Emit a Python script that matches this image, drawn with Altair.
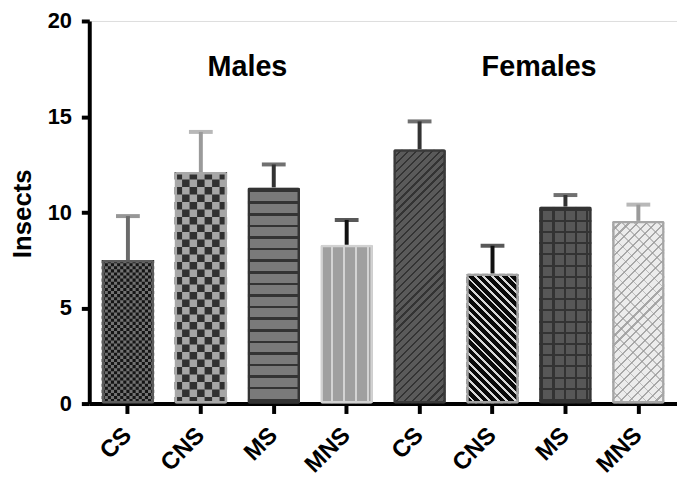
import math
import altair as alt
import pandas as pd

# ---------------- data ----------------
keys = ["M_CS", "M_CNS", "M_MS", "M_MNS", "F_CS", "F_CNS", "F_MS", "F_MNS"]
labels = ["CS", "CNS", "MS", "MNS", "CS", "CNS", "MS", "MNS"]
means = [7.5, 12.1, 11.3, 8.3, 13.3, 6.8, 10.3, 9.55]
uppers = [9.8, 14.2, 12.5, 9.6, 14.75, 8.25, 10.9, 10.4]
group_titles = ["Males", "Females"]
group_title_keys = ["M_CNS", "F_CNS"]
group_title_y = [17.1, 17.1]
y_ticks = [0, 5, 10, 15, 20]

# ---------------- style ----------------
stroke_cols = ["#5c5c5c", "#a8a8a8", "#333333", "#d2d2d2",
               "#3a3a3a", "#a3a3a3", "#333333", "#a6a6a6"]
err_cols = ["#6b6b6b", "#9a9a9a", "#333333", "#111111",
            "#333333", "#111111", "#333333", "#9a9a9a"]

FONT = "Liberation Sans"
W_PLOT, H_PLOT = 593, 386
P_IN, P_OUT = 0.28, 0.17
STEP = W_PLOT / (len(keys) - P_IN + 2 * P_OUT)
BW = STEP * (1 - P_IN)
PX = H_PLOT / 20.0

df = pd.DataFrame({"key": keys, "label": labels, "mean": means,
                   "upper": uppers, "scol": stroke_cols, "ecol": err_cols})
tdf = pd.DataFrame({"key": group_title_keys, "t": group_titles, "y": group_title_y})


def stops(length, period, line_w, bg, fg, phase=0.0):
    segs, cursor = [], 0.0
    k = -2
    while True:
        a = phase + k * period
        b = a + line_w
        k += 1
        if a > length:
            break
        a, b = max(a, 0.0), min(b, length)
        if b <= a or b <= cursor:
            continue
        a = max(a, cursor)
        if a > cursor:
            segs.append((cursor, a, bg))
        segs.append((a, b, fg))
        cursor = b
    if cursor < length:
        segs.append((cursor, length, bg))
    out = []
    for a, b, c in segs:
        out.append({"offset": round(a / length, 5), "color": c})
        out.append({"offset": round(b / length, 5), "color": c})
    return out


def vstripes(w, h, period, lw, bg, fg, phase=0.0):
    return {"gradient": "linear", "x1": 0, "y1": 0, "x2": 1, "y2": 0,
            "stops": stops(w, period, lw, bg, fg, phase)}


def hstripes(w, h, period, lw, bg, fg, phase=0.0):
    return {"gradient": "linear", "x1": 0, "y1": 0, "x2": 0, "y2": 1,
            "stops": stops(h, period, lw, bg, fg, phase)}


def diag_up(w, h, period, lw, bg, fg, phase=0.0):  # "/" lines
    s = (w + h) / (w * w + h * h)
    return {"gradient": "linear", "x1": 0, "y1": 0, "x2": w * s, "y2": h * s,
            "stops": stops(w + h, period, lw, bg, fg, phase)}


def diag_down(w, h, period, lw, bg, fg, phase=0.0):  # "\" lines
    s = (w + h) / (w * w + h * h)
    return {"gradient": "linear", "x1": 0, "y1": 1, "x2": w * s, "y2": 1 - h * s,
            "stops": stops(w + h, period, lw, bg, fg, phase)}


# checker bars: (index, number of columns, dark colour, light colour)
checkers = {0: (17, "#151515", "#727272"), 1: (7, "#303030", "#a6a6a6")}


def fills_for(i):
    w, h = BW, means[i] * PX
    if i in checkers:
        return [checkers[i][2]]
    if i == 2:
        return [hstripes(w, h, 11.7, 2.5, "#7a7a7a", "#333333", 2.5)]
    if i == 3:
        return [vstripes(w, h, 12.0, 2.6, "#a0a0a0", "#d4d4d4", 10.5)]
    if i == 4:
        return [diag_up(w, h, 8.0, 2.2, "#5a5a5a", "#333333")]
    if i == 5:
        return [diag_down(w, h, 8.5, 2.8, "#0a0a0a", "#d8d8d8")]
    if i == 6:
        return [vstripes(w, h, 11.3, 2.2, "#575757", "#333333", 2.0),
                hstripes(w, h, 11.3, 2.2, "rgba(0,0,0,0)", "#333333", 2.0)]
    return [diag_up(w, h, 9.0, 2.2, "#ececec", "#a8a8a8"),
            diag_down(w, h, 12.0, 1.6, "rgba(0,0,0,0)", "rgba(150,150,150,0.55)")]


x_axis = alt.Axis(title=None, labelExpr="split(datum.value, '_')[1]",
                  labelAngle=-45, labelAlign="right", labelBaseline="middle",
                  labelFont=FONT, labelFontSize=24, labelFontWeight="bold",
                  labelColor="black", labelPadding=18, tickSize=10, tickWidth=4,
                  tickColor="black", domainWidth=4, domainColor="black",
                  grid=False)
y_axis = alt.Axis(title="Insects", values=y_ticks, labelFont=FONT,
                  labelFontSize=22, labelFontWeight="bold", labelColor="black",
                  labelPadding=10, tickSize=8, tickWidth=4, tickColor="black",
                  domainWidth=4, domainColor="black", grid=False,
                  titleFont=FONT, titleFontSize=26, titleFontWeight="bold",
                  titleColor="black", titleX=-67, titleY=194, titleAngle=-90,
                  titleAlign="center", titleBaseline="middle")

X = alt.X("key:N", sort=keys,
          scale=alt.Scale(domain=keys, paddingInner=P_IN, paddingOuter=P_OUT),
          axis=x_axis)


def Y(field):
    return alt.Y(field, type="quantitative", title="Insects",
                 scale=alt.Scale(domain=[0, 20], nice=False, zero=True), axis=y_axis)


base = alt.Chart(df)

layers = []
layers.append(base.mark_rule(strokeWidth=4).encode(
    x=X, y=Y("mean"), y2="upper", color=alt.Color("ecol:N", scale=None)))
layers.append(base.mark_tick(thickness=4, size=24).encode(
    x=X, y=Y("upper"), color=alt.Color("ecol:N", scale=None)))

for i, k in enumerate(keys):
    sub = base.transform_filter(alt.datum.key == k)
    for f in fills_for(i):
        layers.append(sub.mark_bar(cornerRadius=2).encode(
            x=X, y=Y("mean"), fill=alt.value(f)))
    if i in checkers:
        ncol, dark, _light = checkers[i]
        sq = BW / ncol
        for j in range(ncol):
            layers.append(sub.mark_rule(
                strokeWidth=sq, strokeDash=[sq, sq],
                strokeDashOffset=(0 if j % 2 == 0 else sq),
                color=dark, xOffset=-BW / 2 + sq * (j + 0.5)).encode(
                x=X, y=Y("mean"), y2=alt.datum(0)))

layers.append(base.mark_bar(fillOpacity=0, strokeWidth=5, cornerRadius=2).encode(
    x=X, y=Y("mean"), stroke=alt.Stroke("scol:N", scale=None)))

layers.append(alt.Chart(tdf).mark_text(font=FONT, fontSize=29, fontWeight="bold",
                                       color="black", baseline="alphabetic",
                                       align="center", dx=47).encode(
    x=X, y=Y("y"), text="t:N"))

chart = alt.layer(*layers).properties(
    width=W_PLOT, height=H_PLOT,
    autosize=alt.AutoSizeParams(type="none"),
    padding={"left": 82, "top": 11, "right": 0, "bottom": 72},
).configure_view(stroke=None).configure(background="white")

chart.save("out.html", embed_options={"renderer": "svg", "actions": False})
